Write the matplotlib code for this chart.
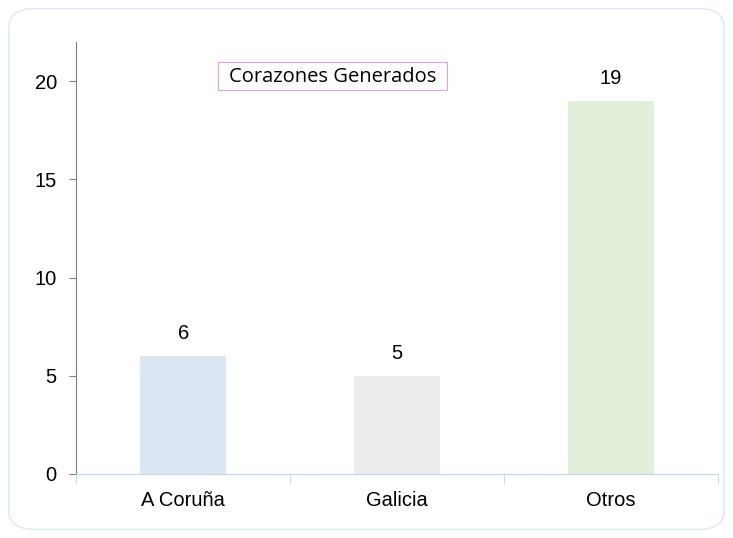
import matplotlib.pyplot as plt
from matplotlib.patches import FancyBboxPatch, Rectangle

categories = ['A Coruña', 'Galicia', 'Otros']
values = [6, 5, 19]
colors = ['#DCE6F2', '#EDEDED', '#E2EFDA']
title = 'Corazones Generados'


def start():
    fig = plt.figure(figsize=(7.33, 5.38), dpi=100)

    # rounded outer frame
    frame = FancyBboxPatch((0.012, 0.016), 0.976, 0.968,
                           boxstyle='round,pad=0,rounding_size=0.035',
                           transform=fig.transFigure, facecolor='white',
                           edgecolor='#DCE9F5', linewidth=1.0, zorder=-5)
    fig.patches.append(frame)

    ax = fig.add_axes([0.104, 0.119, 0.8755, 0.803])
    ax.patch.set_alpha(0)
    x = list(range(len(categories)))
    bars = ax.bar(x, values, width=0.4, color=colors)
    for b, v in zip(bars, values):
        ax.annotate(str(v), (b.get_x() + b.get_width() / 2, v),
                    xytext=(0, 16), textcoords='offset points',
                    ha='center', va='center', fontsize=14.5,
                    family='Liberation Sans')

    ax.set_xlim(-0.5, len(categories) - 0.5)
    ax.set_ylim(0, 22)
    ax.set_yticks([0, 5, 10, 15, 20])
    ax.set_xticks(x)
    ax.set_xticklabels(categories)
    ax.set_xticks([i - 0.5 for i in range(len(categories) + 1)], minor=True)

    for lbl in ax.get_xticklabels() + ax.get_yticklabels():
        lbl.set_family('Liberation Sans')
        lbl.set_fontsize(14.5)

    ax.spines['top'].set_visible(False)
    ax.spines['right'].set_visible(False)
    ax.spines['left'].set_color('#7F7F7F')
    ax.spines['bottom'].set_color('#BDD7EE')
    ax.tick_params(axis='y', length=5, color='#7F7F7F', pad=9)
    ax.tick_params(axis='x', which='major', length=0, pad=12)
    ax.tick_params(axis='x', which='minor', length=7, color='#BDD7EE')

    # title box
    box = Rectangle((218 / 733, 1 - 90 / 538), 229 / 733, 28 / 538,
                    transform=fig.transFigure, facecolor='white',
                    edgecolor='#D9A3D9', linewidth=0.8, zorder=5)
    fig.patches.append(box)
    fig.text(332.5 / 733, 1 - 76.5 / 538, title, ha='center', va='center',
             fontsize=14.5, family='Open Sans', zorder=6)

    fig.savefig('out.png', dpi=100)


if __name__ == '__main__':
    start()
